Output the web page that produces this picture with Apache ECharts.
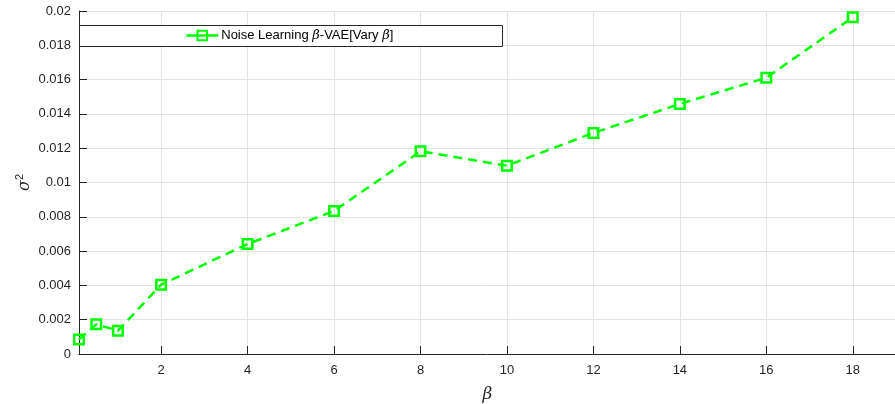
<!DOCTYPE html>
<html><head><meta charset="utf-8">
<script src="https://cdn.jsdelivr.net/npm/echarts@6/dist/echarts.min.js"></script>
<style>html,body{margin:0;padding:0;background:#fff}#c{width:895px;height:404px}</style>
</head><body><div id="c"></div>
<script>
const betaValues = [0.1, 0.5, 1, 2, 4, 6, 8, 10, 12, 14, 16, 18];
const sigma2Values = [0.00085, 0.00173, 0.00136, 0.00404, 0.00641, 0.00834, 0.01182, 0.01098, 0.01289, 0.01458, 0.01611, 0.01963];
const xTickValues = [2, 4, 6, 8, 10, 12, 14, 16, 18];
const seriesName = 'Noise Learning β-VAE[Vary β]';

const green = '#00ff00';
const font = 'Liberation Sans, Arial, Helvetica, sans-serif';
const chart = echarts.init(document.getElementById('c'), null, {renderer: 'canvas'});
chart.setOption({
  backgroundColor: '#fff',
  animation: false,
  grid: {left: 79, top: 11, width: 817, height: 343, containLabel: false, outerBoundsMode: 'none'},
  xAxis: {
    type: 'value', min: 0.1, max: 19,
    name: 'β', nameLocation: 'middle', nameGap: 32,
    nameTextStyle: {fontFamily: 'DejaVu Serif, serif', fontStyle: 'italic', fontSize: 17, color: '#262626'},
    axisLine: {onZero: false, lineStyle: {color: '#262626', width: 1}},
    axisTick: {inside: true, length: 8, customValues: xTickValues, lineStyle: {color: '#262626'}},
    axisLabel: {customValues: xTickValues, fontFamily: font, fontSize: 13, color: '#262626', margin: 10},
    splitLine: {show: true, lineStyle: {color: '#e3e3e3', width: 1}}
  },
  yAxis: {
    type: 'value', min: 0, max: 0.02, interval: 0.002,
    name: '{s|σ}{p|2}', nameLocation: 'middle', nameGap: 44, nameRotate: 90,
    nameMoveOverlap: false,
    nameTextStyle: {
      color: '#262626',
      rich: {
        s: {fontFamily: 'DejaVu Serif, serif', fontStyle: 'italic', fontSize: 16, color: '#262626'},
        p: {fontFamily: font, fontSize: 11, color: '#262626', padding: [0, 0, 10, 0]}
      }
    },
    axisLine: {show: true, lineStyle: {color: '#262626', width: 1}},
    axisTick: {show: true, inside: true, length: 8, lineStyle: {color: '#262626'}},
    axisLabel: {fontFamily: font, fontSize: 13, color: '#262626', margin: 8,
      formatter: v => v === 0 ? '0' : String(parseFloat(v.toFixed(4)))},
    splitLine: {show: true, lineStyle: {color: '#e3e3e3', width: 1}}
  },
  graphic: [{
    type: 'rect', left: 79, top: 25, z: 5,
    shape: {width: 423, height: 21},
    style: {fill: '#fff', stroke: '#262626', lineWidth: 1}
  }],
  legend: {
    left: 185, top: 29, z: 10, padding: 0, itemWidth: 32, itemHeight: 12, itemGap: 5,
    data: [seriesName],
    lineStyle: {type: 'solid', width: 2.5},
    formatter: () => '{n|Noise Learning }{b|β}{n|-VAE[Vary }{b|β}{n|]}',
    textStyle: {
      padding: [0, 0, 0, -2],
      rich: {
        n: {fontFamily: font, fontSize: 13, color: '#000'},
        b: {fontFamily: 'DejaVu Serif, serif', fontStyle: 'italic', fontSize: 13, color: '#000'}
      }
    }
  },
  series: [{
    name: seriesName, type: 'line',
    data: betaValues.map((b, i) => [b, sigma2Values[i]]),
    symbol: 'rect', symbolSize: 9.5, showAllSymbol: true,
    lineStyle: {color: green, width: 2.5, type: [9, 6]},
    itemStyle: {color: 'rgba(0,0,0,0)', borderColor: green, borderWidth: 2.5},
    clip: false
  }]
});
</script></body></html>
